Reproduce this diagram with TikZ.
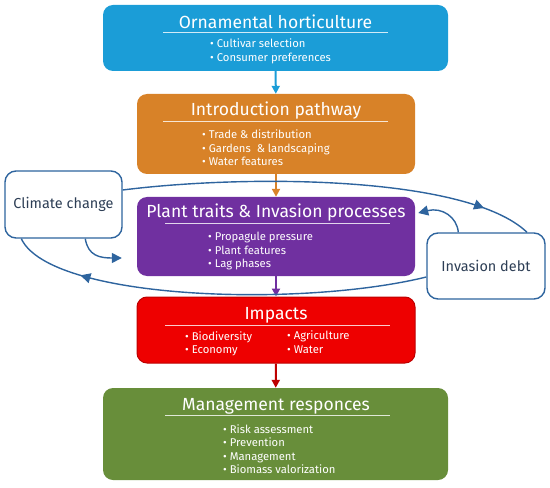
\documentclass[tikz,border=0pt]{standalone}
\usepackage{fontspec}
\setmainfont{Fira Sans}
\usetikzlibrary{arrows.meta,decorations.markings}

\definecolor{hortblue}{RGB}{27,157,215}
\definecolor{pathorange}{RGB}{216,130,40}
\definecolor{traitpurple}{RGB}{112,48,160}
\definecolor{impactred}{RGB}{238,0,0}
\definecolor{impactdark}{RGB}{190,0,0}
\definecolor{mgmtgreen}{RGB}{104,142,58}
\definecolor{linkblue}{RGB}{46,100,158}
\definecolor{sidetext}{RGB}{45,62,85}

\begin{document}
\begin{tikzpicture}[x=1bp, y=-1bp,
    box/.style={rounded corners=10bp, inner sep=0pt},
    title/.style={text=white, inner sep=0pt, font=\fontsize{17.6}{19}\selectfont},
    bullets/.style={text=white, align=left, anchor=west, inner sep=0pt, font=\fontsize{11.3}{13.6}\selectfont},
    uline/.style={draw=white, draw opacity=0.8, line width=0.8bp},
    side/.style={draw=linkblue, line width=1.4bp, rounded corners=11bp, fill=white, inner sep=0pt,
        text=sidetext, font=\fontsize{14.5}{16}\selectfont},
    link/.style={draw=linkblue, line width=1.4bp},
    down/.style={line width=2bp, -{Triangle[length=8bp,width=8bp]}},
    midarrow/.style={postaction={decorate}, decoration={markings,
        mark=at position #1 with {\arrow{Triangle[length=10bp,width=10bp]}}}}
]
    \useasboundingbox (0,0) rectangle (550,488);

    % boxes
    \node[box, fill=hortblue, minimum width=345bp, minimum height=66bp] at (275.5,38) (hort) {};
    \node[box, fill=pathorange, minimum width=278bp, minimum height=80bp] at (276,134) (intro) {};
    \node[box, fill=traitpurple, minimum width=278bp, minimum height=79bp] at (276,236.5) (traits) {};
    \node[box, fill=impactred, draw=impactdark, line width=1bp, minimum width=278bp, minimum height=66bp] at (276,330) (impacts) {};
    \node[box, fill=mgmtgreen, minimum width=345bp, minimum height=92bp] at (275.5,434) (mgmt) {};

    \node[side, minimum width=117bp, minimum height=67bp] at (63.5,204.5) (climate) {Climate change};
    \node[side, minimum width=118bp, minimum height=66bp] at (486,266) (debt) {Invasion debt};

    % texts
    \node[title] at (275.5,22) (hortT) {Ornamental horticulture};
    \draw[uline] (163,32) -- (388,32);
    \node[bullets] at (210,51.5) (hortB) {\textbullet\ Cultivar selection\\\textbullet\ Consumer preferences};

    \node[title] at (276,111) (introT) {Introduction pathway};
    \draw[uline] (163,121) -- (388,121);
    \node[bullets] at (202,147.7) (introB) {\textbullet\ Trade \& distribution\\\textbullet\ Gardens\ \ \& landscaping\\\textbullet\ Water features};

    \node[title] at (276,213) (traitsT) {Plant traits \& Invasion processes};
    \draw[uline] (165,223) -- (390,223);
    \node[bullets] at (208,251) (traitsB) {\textbullet\ Propagule pressure\\\textbullet\ Plant features\\\textbullet\ Lag phases};

    \node[title] at (276,315) (impactsT) {Impacts};
    \draw[uline] (165,325) -- (390,325);
    \node[bullets] at (185,344) (impactsL) {\textbullet\ Biodiversity\\\textbullet\ Economy};
    \node[bullets] at (287,342) (impactsR) {\textbullet\ Agriculture\\\textbullet\ Water};

    \node[title] at (276,406) (mgmtT) {Management responces};
    \draw[uline] (165,415) -- (390,415);
    \node[bullets] at (223,449.3) (mgmtB) {\textbullet\ Risk assessment\\\textbullet\ Prevention\\\textbullet\ Management\\\textbullet\ Biomass valorization};

    % main chain
    \draw[down, hortblue] (hort) -- (intro);
    \draw[down, pathorange] (intro) -- (traits);
    \draw[down, traitpurple] (traits) -- (impacts);
    \draw[down, impactdark] (impacts) -- (mgmt);

    % loops
    \draw[link, midarrow=0.88] ([yshift=14.5bp]climate.east) .. controls (250,174) and (468,176) .. ([xshift=41bp]debt.north);
    \draw[link, midarrow=0.83] ([yshift=-11bp]debt.west) .. controls (300,308) and (50,300) .. ([xshift=17bp]climate.south west);
    \draw[link, -{Triangle[length=10bp,width=10bp]}] ([xshift=81bp]climate.south west) .. controls (88,256) and (100,258) .. ([xshift=-15bp,yshift=-21.5bp]traits.west);
    \draw[link, -{Triangle[length=10bp,width=10bp]}] ([xshift=32bp]debt.north west) .. controls (457,217) and (442,207) .. ([xshift=3bp,yshift=23.5bp]traits.east);
\end{tikzpicture}
\end{document}
